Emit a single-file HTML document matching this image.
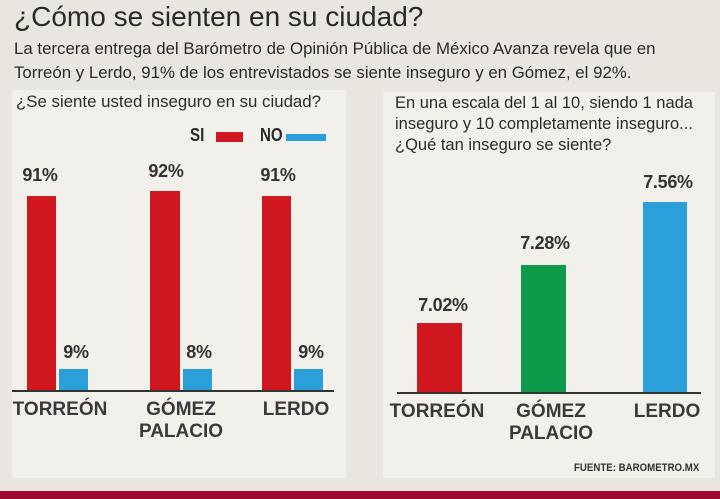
<!DOCTYPE html>
<html><head><meta charset="utf-8"><style>
body{margin:0;width:720px;height:499px;overflow:hidden;background:#e9e6df;font-family:"Liberation Sans",sans-serif;color:#2b2b2b;position:relative}
.a{position:absolute;white-space:nowrap}
.n{display:inline-block;transform:scaleX(.84);transform-origin:0 0}
.c{transform:translateX(-50%)}
.b{position:absolute}
.p{font-size:18px;font-weight:bold;color:#333;letter-spacing:-.3px}
.cat{font-size:19px;font-weight:bold;color:#3a3a3a;text-align:center;line-height:22px}
</style></head><body>
<div class="a" style="left:14px;top:1px;font-size:28px;color:#2a2a2a"><span class="n" style="transform:scaleX(1.0)">¿Cómo se sienten en su ciudad?</span></div>
<div class="a" style="left:14px;top:37px;font-size:17px;line-height:24px;color:#2a2a2a"><span class="n" style="transform:scaleX(.99)">La tercera entrega del Barómetro de Opinión Pública de México Avanza revela que en<br>Torreón y Lerdo, 91% de los entrevistados se siente inseguro y en Gómez, el 92%.</span></div>
<div class="b" style="left:12px;top:90px;width:334px;height:388px;background:#f2f0eb"></div>
<div class="b" style="left:383px;top:92px;width:332px;height:386px;background:#f2f0eb"></div>
<div class="a" style="left:16px;top:92px;font-size:17px"><span class="n" style="transform:scaleX(.99)">¿Se siente usted inseguro en su ciudad?</span></div>
<div class="a" style="left:190px;top:125px;font-size:18px;font-weight:bold"><span class="n">SI</span></div>
<div class="b" style="left:216px;top:132px;width:27px;height:10px;background:#d0161f"></div>
<div class="a" style="left:260px;top:125px;font-size:18px;font-weight:bold"><span class="n">NO</span></div>
<div class="b" style="left:286px;top:134px;width:40px;height:7px;background:#2a9fd9"></div>
<div class="a" style="left:395px;top:92px;font-size:17px;line-height:21px"><span class="n" style="transform:scaleX(.97)">En una escala del 1 al 10, siendo 1 nada<br>inseguro y 10 completamente inseguro...<br>¿Qué tan inseguro se siente?</span></div>
<!-- left bars -->
<div class="b" style="left:27px;top:196px;width:29px;height:195px;background:#d0161f"></div>
<div class="b" style="left:59px;top:369px;width:29px;height:22px;background:#2a9fd9"></div>
<div class="b" style="left:150px;top:191px;width:30px;height:200px;background:#d0161f"></div>
<div class="b" style="left:183px;top:369px;width:29px;height:22px;background:#2a9fd9"></div>
<div class="b" style="left:262px;top:196px;width:29px;height:195px;background:#d0161f"></div>
<div class="b" style="left:294px;top:369px;width:29px;height:22px;background:#2a9fd9"></div>
<div class="b" style="left:12px;top:390px;width:322px;height:2px;background:#333"></div>
<div class="a c p" style="left:40px;top:165px">91%</div>
<div class="a c p" style="left:166px;top:161px">92%</div>
<div class="a c p" style="left:278px;top:165px">91%</div>
<div class="a c p" style="left:76px;top:342px">9%</div>
<div class="a c p" style="left:199px;top:342px">8%</div>
<div class="a c p" style="left:311px;top:342px">9%</div>
<div class="a c cat" style="left:60px;top:399px">TORREÓN</div>
<div class="a c cat" style="left:181px;top:399px">GÓMEZ<br>PALACIO</div>
<div class="a c cat" style="left:296px;top:399px">LERDO</div>
<!-- right bars -->
<div class="b" style="left:417px;top:323px;width:45px;height:70px;background:#d0161f"></div>
<div class="b" style="left:521px;top:265px;width:45px;height:128px;background:#0e9a4a"></div>
<div class="b" style="left:643px;top:202px;width:44px;height:191px;background:#2a9fd9"></div>
<div class="b" style="left:397px;top:392px;width:304px;height:2px;background:#333"></div>
<div class="a c p" style="left:443px;top:295px">7.02%</div>
<div class="a c p" style="left:545px;top:233px">7.28%</div>
<div class="a c p" style="left:668px;top:172px">7.56%</div>
<div class="a c cat" style="left:437px;top:401px">TORREÓN</div>
<div class="a c cat" style="left:551px;top:401px">GÓMEZ<br>PALACIO</div>
<div class="a c cat" style="left:667px;top:401px">LERDO</div>
<div class="a" style="left:574px;top:462px;font-size:11px;font-weight:bold;color:#333"><span class="n" style="transform:scaleX(.88)">FUENTE: BAROMETRO.MX</span></div>
<div class="b" style="left:0;top:491px;width:720px;height:8px;background:#9c0a2e"></div>
</body></html>
